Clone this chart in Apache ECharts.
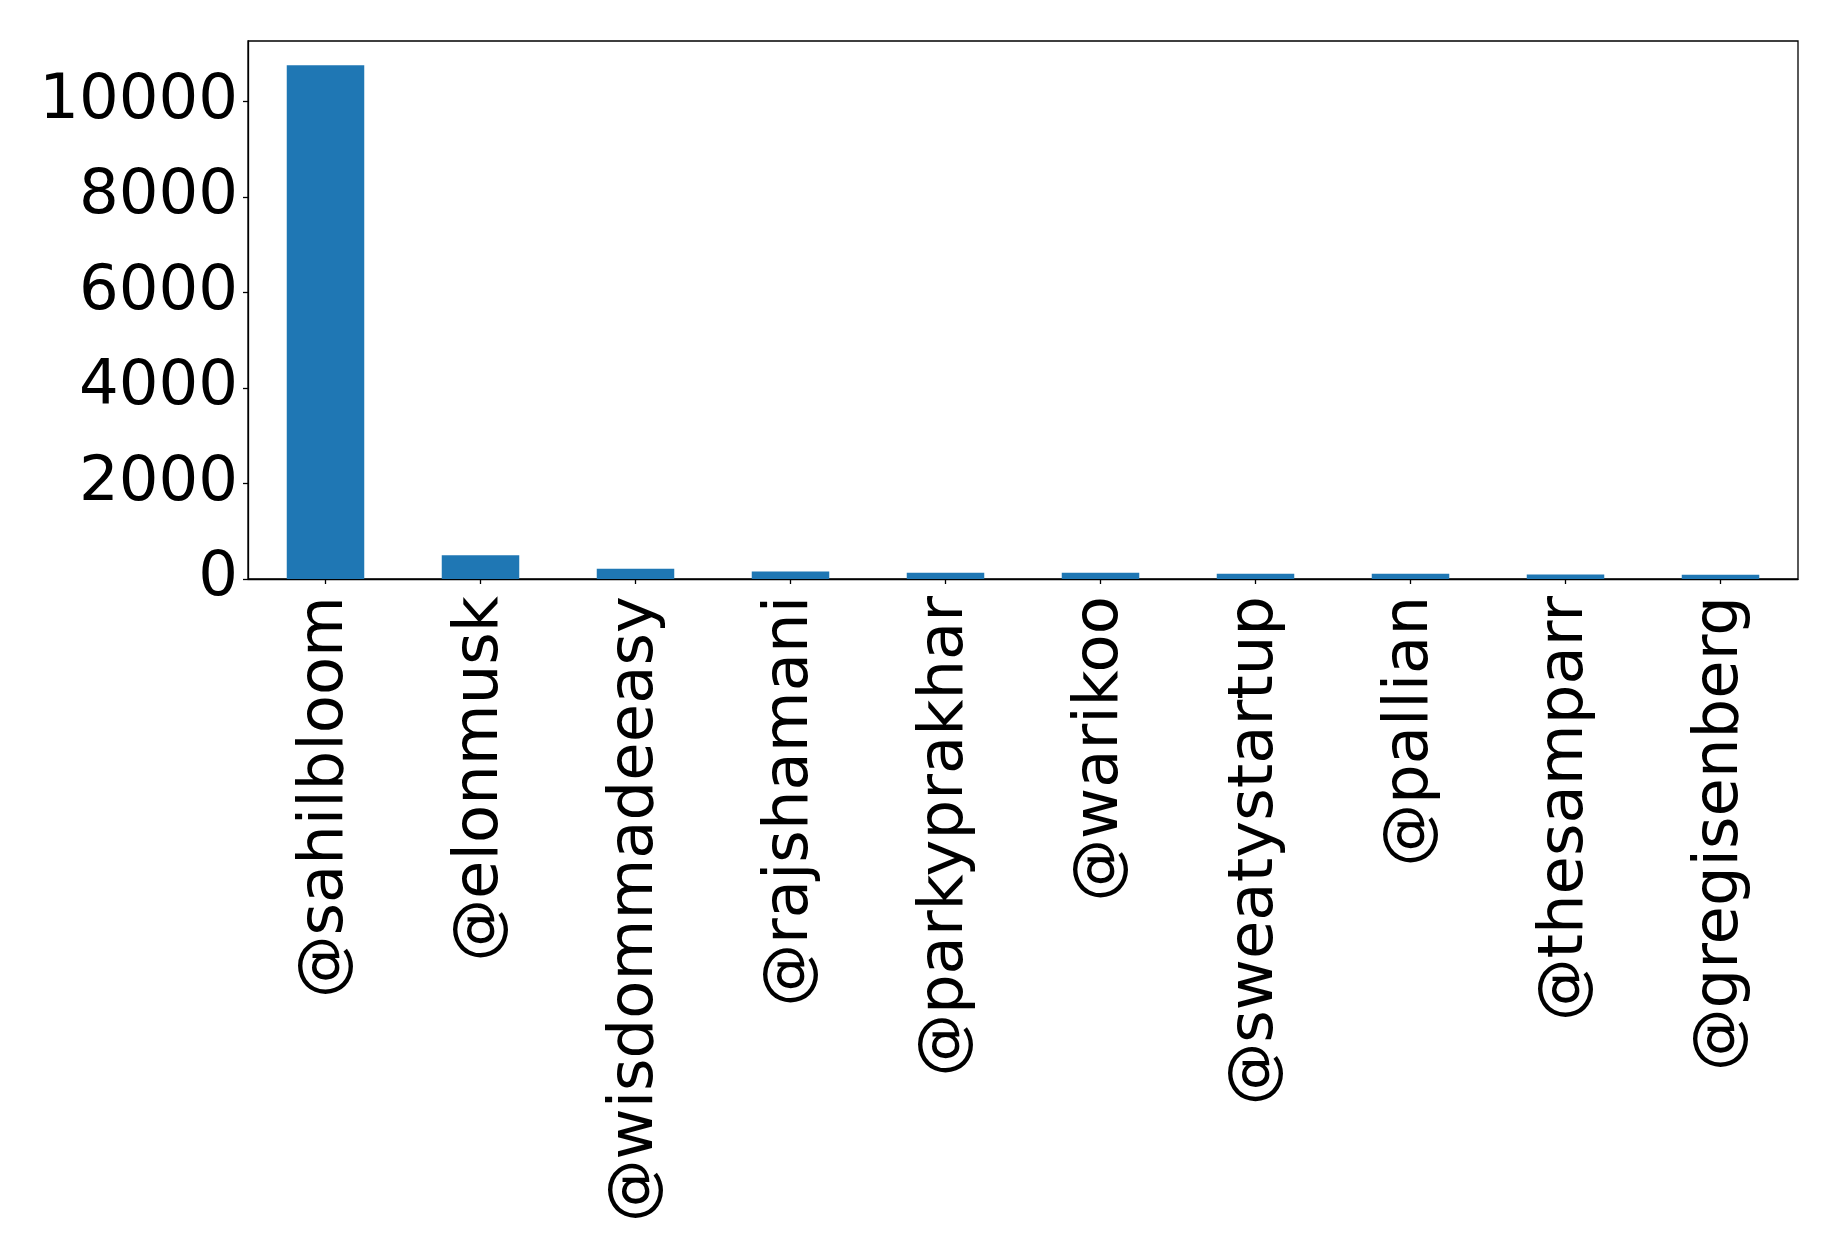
<!DOCTYPE html>
<html>
<head>
<meta charset="utf-8">
<script src="https://cdn.jsdelivr.net/npm/echarts@6/dist/echarts.min.js"></script>
<style>
  html, body { margin: 0; padding: 0; background: #fff; }
  #chart { width: 1838px; height: 1254px; }
</style>
</head>
<body>
<div id="chart"></div>
<script>
// Accounts and their counts
const accounts = ['@sahilbloom', '@elonmusk', '@wisdommadeeasy', '@rajshamani', '@parkyprakhar',
                  '@warikoo', '@sweatystartup', '@pallian', '@thesamparr', '@gregisenberg'];
const counts = [10760, 495, 215, 155, 133, 130, 112, 110, 92, 90];
const yTicks = [0, 2000, 4000, 6000, 8000, 10000];

const font = 'DejaVu Sans';
const chart = echarts.init(document.getElementById('chart'), null, { renderer: 'canvas' });

chart.setOption({
  animation: false,
  backgroundColor: '#ffffff',
  grid: {
    left: 248, right: 40, top: 41, bottom: 675,
    show: true, borderColor: '#000', borderWidth: 1.3, backgroundColor: 'transparent'
  },
  xAxis: {
    type: 'category',
    data: accounts,
    axisLine: { show: true, lineStyle: { color: '#000', width: 1.3 } },
    axisTick: { show: true, alignWithLabel: true, length: 5, lineStyle: { color: '#000', width: 1.3 } },
    axisLabel: {
      rotate: 90, margin: 17, interval: 0,
      fontFamily: font, fontSize: 62.5, color: '#000'
    },
    splitLine: { show: false }
  },
  yAxis: {
    type: 'value',
    min: 0, max: 11270, interval: 2000,
    axisLine: { show: true, lineStyle: { color: '#000', width: 1.3 } },
    axisTick: { show: true, length: 5, customValues: yTicks, lineStyle: { color: '#000', width: 1.3 } },
    axisLabel: {
      margin: 10, fontFamily: font, fontSize: 62.5, color: '#000',
      customValues: yTicks,
      formatter: v => String(v)
    },
    splitLine: { show: false }
  },
  series: [{
    type: 'bar',
    data: counts,
    barWidth: '50%',
    itemStyle: { color: '#1f77b4' }
  }]
});
</script>
</body>
</html>
